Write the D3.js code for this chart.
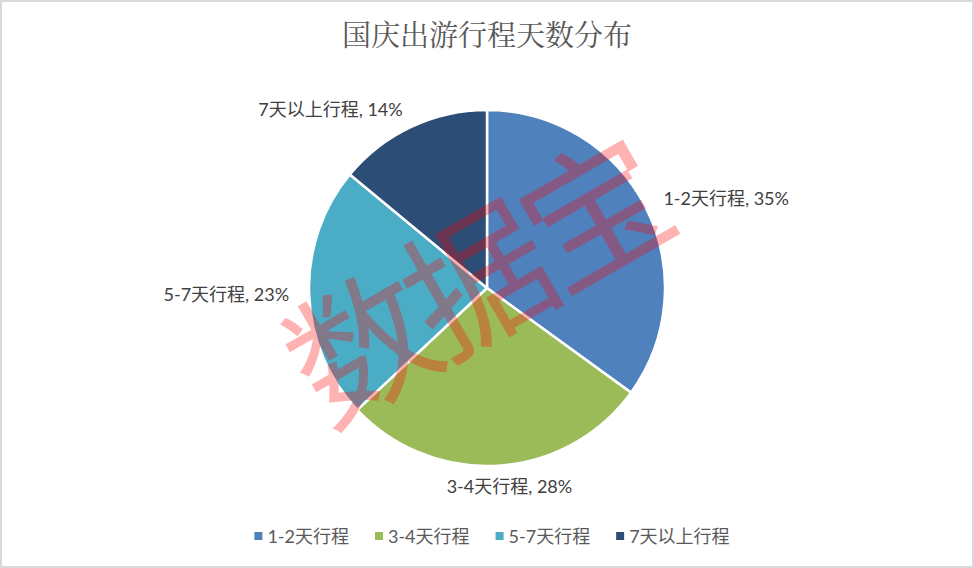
<!DOCTYPE html>
<html><head><meta charset="utf-8">
<script src="https://cdn.jsdelivr.net/npm/d3@7"></script>
<style>
html,body{margin:0;padding:0;background:#fff;}
svg{display:block;}
</style></head>
<body>
<svg id="chart" width="974" height="568"></svg>
<script>
const title = "国庆出游行程天数分布";
const categories = ["1-2天行程", "3-4天行程", "5-7天行程", "7天以上行程"];
const values = [35, 28, 23, 14];
const colors = ["#4F81BD", "#9BBB59", "#4BACC6", "#2C4D75"];
const watermark = "数据宝";

const W = 974, H = 568;
const cx = 487, cy = 288, R = 178;
const latin = "Lato, 'Noto Sans CJK SC', sans-serif";

const svg = d3.select("#chart");
svg.append("rect").attr("x", 1).attr("y", 1).attr("width", W - 2).attr("height", H - 2)
  .attr("fill", "#fff").attr("stroke", "#d9d9d9").attr("stroke-width", 2);

svg.append("text").attr("x", cx).attr("y", 46).attr("text-anchor", "middle")
  .attr("font-family", "'Noto Serif CJK SC','Noto Sans CJK SC',serif")
  .attr("font-size", 29).attr("fill", "#595959").text(title);

const data = categories.map((c, i) => ({cat: c, value: values[i], color: colors[i]}));
const pie = d3.pie().value(d => d.value).sort(null);
const arcs = pie(data);
const arc = d3.arc().innerRadius(0).outerRadius(R);

const g = svg.append("g").attr("transform", `translate(${cx},${cy})`);
g.selectAll("path").data(arcs).join("path")
  .attr("d", arc).attr("fill", d => d.data.color)
  .attr("stroke", "#fff").attr("stroke-width", 2.5).attr("stroke-linejoin", "round");

// labels
const labelR = R + 20;
g.selectAll("text.lbl").data(arcs).join("text").attr("class", "lbl")
  .each(function(d) {
    const a = (d.startAngle + d.endAngle) / 2;
    const x = Math.sin(a) * labelR, y = -Math.cos(a) * labelR;
    let anchor = "middle", dx = 0;
    if (Math.sin(a) > 0.3) anchor = "start";
    else if (Math.sin(a) < -0.3) anchor = "end";
    else dx = 10;
    d3.select(this).attr("x", x + dx).attr("y", y).attr("text-anchor", anchor);
  })
  .attr("dominant-baseline", "central")
  .attr("font-family", latin).attr("font-size", 18).attr("fill", "#404040")
  .text(d => `${d.data.cat}, ${d.data.value}%`);

// watermark
svg.append("text")
  .attr("transform", `translate(470,274) rotate(-30)`)
  .attr("text-anchor", "middle").attr("dominant-baseline", "central")
  .attr("font-family", "'Noto Sans CJK SC',sans-serif").attr("font-size", 144)
  .attr("letter-spacing", -9)
  .attr("fill", "#FF0000").attr("fill-opacity", 0.3).text(watermark);

// legend
const leg = svg.append("g");
const items = leg.selectAll("g").data(data).join("g");
items.append("rect").attr("width", 8).attr("height", 8).attr("y", -4).attr("fill", d => d.color);
items.append("text").attr("x", 13).attr("dominant-baseline", "central")
  .attr("font-family", latin).attr("font-size", 18).attr("fill", "#595959").text(d => d.cat);
let xpos = 0;
const gap = 26;
items.each(function() {
  const w = 13 + d3.select(this).select("text").node().getComputedTextLength();
  d3.select(this).attr("transform", `translate(${xpos},536)`);
  xpos += w + gap;
});
const total = xpos - gap;
leg.attr("transform", `translate(${492 - total / 2},0)`);
</script>
</body></html>
